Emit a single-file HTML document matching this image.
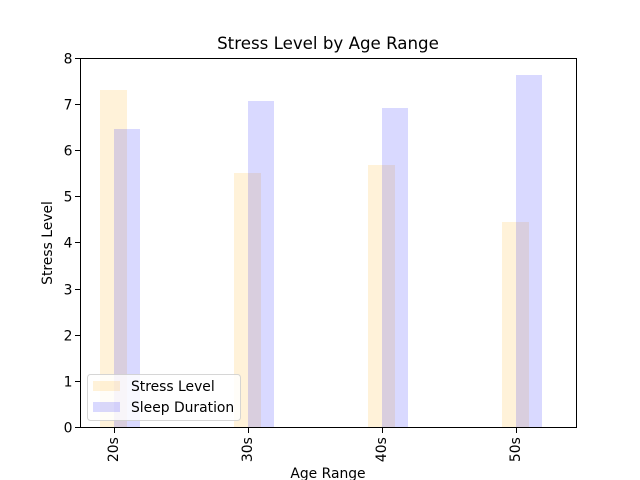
<!DOCTYPE html>
<html lang="en">
<head>
<meta charset="utf-8">
<title>Stress Level by Age Range</title>
<style>
html,body{margin:0;padding:0;background:#fff;width:640px;height:480px;overflow:hidden}
svg{display:block}
text{font-family:"DejaVu Sans","Liberation Sans",sans-serif;fill:#000}
</style>
</head>
<body>
<svg id="chart" xmlns="http://www.w3.org/2000/svg" width="640" height="480" viewBox="0 0 640 480">
  <rect x="0" y="0" width="640" height="480" fill="#fff"/>
  <rect x="80" y="58" width="496" height="369" fill="#fff"/>
  <g id="bars" shape-rendering="crispEdges"></g>
  <g id="ticks"></g>
  <g>
    <rect x="87.5" y="374.5" width="153" height="46" rx="3" ry="3" fill="#fff" fill-opacity="0.8" stroke="#ccc" stroke-opacity="0.8" stroke-width="1"/>
    <rect x="93" y="381" width="27" height="10" fill="#ffa500" fill-opacity="0.15" shape-rendering="crispEdges"/>
    <text x="131" y="391" font-size="13.89">Stress Level</text>
    <rect x="93" y="402" width="27" height="10" fill="#0000ff" fill-opacity="0.15" shape-rendering="crispEdges"/>
    <text x="131" y="412" font-size="13.89">Sleep Duration</text>
  </g>
  <rect x="80.5" y="58.5" width="496" height="369" fill="none" stroke="#000" stroke-width="1"/>
  <text x="328" y="49" font-size="16.67" text-anchor="middle">Stress Level by Age Range</text>
  <text x="328" y="478" font-size="13.89" text-anchor="middle">Age Range</text>
  <text x="0" y="0" font-size="13.89" text-anchor="middle" transform="translate(52 243) rotate(-90)">Stress Level</text>
</svg>
<script>
const categories = ['20s', '30s', '40s', '50s'];
const stressLevel = [7.3, 5.5, 5.68, 4.44];
const sleepDuration = [6.45, 7.06, 6.91, 7.62];
const yTickLabels = [0, 1, 2, 3, 4, 5, 6, 7, 8];

const NS = 'http://www.w3.org/2000/svg';
const plot = { left: 80, right: 576, top: 57.6, bottom: 427.2 };
const xDomain = [-0.254, 3.448];
const yDomain = [0, 8];

function xScale(v) {
  return plot.left + (v - xDomain[0]) / (xDomain[1] - xDomain[0]) * (plot.right - plot.left);
}
function yScale(v) {
  return plot.bottom - (v - yDomain[0]) / (yDomain[1] - yDomain[0]) * (plot.bottom - plot.top);
}
function make(tag, parent) {
  const el = document.createElementNS(NS, tag);
  parent.appendChild(el);
  return el;
}

const barsGroup = document.getElementById('bars');
const ticksGroup = document.getElementById('ticks');

stressLevel.forEach(function (value, i) {
  const left = xScale(i - 0.105);
  const right = xScale(i + 0.097);
  const rect = make('rect', barsGroup);
  
  
  rect.setAttribute('x', left);
  rect.setAttribute('y', yScale(value));
  rect.setAttribute('width', right - left);
  rect.setAttribute('height', yScale(0) - yScale(value));
  rect.setAttribute('fill', '#ffa500');
  rect.setAttribute('fill-opacity', '0.15');
});

sleepDuration.forEach(function (value, i) {
  const left = xScale(i);
  const right = xScale(i + 0.195);
  const rect = make('rect', barsGroup);
  
  
  rect.setAttribute('x', left);
  rect.setAttribute('y', yScale(value));
  rect.setAttribute('width', right - left);
  rect.setAttribute('height', yScale(0) - yScale(value));
  rect.setAttribute('fill', '#0000ff');
  rect.setAttribute('fill-opacity', '0.15');
});

yTickLabels.forEach(function (value) {
  const y = Math.round(yScale(value));
  const tick = make('line', ticksGroup);
  
  
  tick.setAttribute('x1', plot.left - 5);
  tick.setAttribute('x2', plot.left);
  tick.setAttribute('y1', y + 0.5);
  tick.setAttribute('y2', y + 0.5);
  tick.setAttribute('stroke', '#000');
  tick.setAttribute('stroke-width', '1');
  const label = make('text', ticksGroup);
  
  
  label.setAttribute('x', plot.left - 7.5);
  label.setAttribute('y', y + 5.5);
  label.setAttribute('font-size', '13.89');
  label.setAttribute('text-anchor', 'end');
  label.textContent = value;
});

categories.forEach(function (name, i) {
  const x = Math.round(xScale(i));
  const tick = make('line', ticksGroup);
  
  
  tick.setAttribute('x1', x + 0.5);
  tick.setAttribute('x2', x + 0.5);
  tick.setAttribute('y1', 427);
  tick.setAttribute('y2', 433);
  tick.setAttribute('stroke', '#000');
  tick.setAttribute('stroke-width', '1');
  const label = make('text', ticksGroup);
  
  
  label.setAttribute('font-size', '13.89');
  label.setAttribute('text-anchor', 'end');
  label.setAttribute('transform', 'translate(' + (x + 4) + ' ' + (plot.bottom + 10) + ') rotate(-90)');
  label.textContent = name;
});
</script>
</body>
</html>
